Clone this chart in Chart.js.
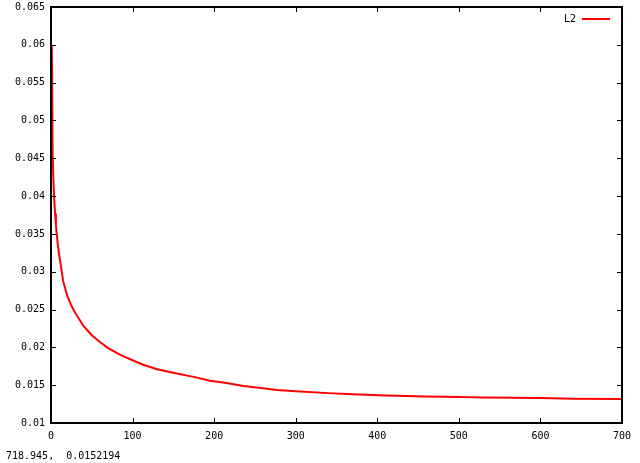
<!DOCTYPE html>
<html>
<head>
<meta charset="utf-8">
<script src="https://cdn.jsdelivr.net/npm/chart.js@4"></script>
<style>
  html, body { margin: 0; padding: 0; background: #fff; }
  #wrap { position: relative; width: 640px; height: 463px; }
  #status {
    position: absolute; left: 6px; top: 450px;
    font: 10px "DejaVu Sans Mono", monospace; color: #000; white-space: pre;
  }
</style>
</head>
<body>
<div id="wrap">
  <canvas id="plot" width="640" height="463"></canvas>
  <div id="status">718.945,  0.0152194</div>
</div>
<script>
// Series L2
const xs = [1, 2, 3, 4, 5, 6, 7, 8, 10, 12, 15, 20, 25, 30, 40, 50, 60, 70, 85, 100,
            113, 130, 154, 175, 195, 215, 236, 260, 277, 300, 340, 370, 410, 460, 500,
            530, 600, 640, 700];
const l2 = [0.0600, 0.0457, 0.0421, 0.0395, 0.0377, 0.0362, 0.0350, 0.0339, 0.0322, 0.0309,
            0.0287, 0.0268, 0.0255, 0.0245, 0.0228, 0.0216, 0.0207, 0.0199, 0.0190, 0.0183,
            0.0177, 0.0171, 0.01655, 0.0161, 0.0156, 0.0153, 0.0149, 0.0146, 0.01437, 0.0142,
            0.01395, 0.0138, 0.01362, 0.0135, 0.01343, 0.01338, 0.0133, 0.01322, 0.01317];

const xMin = 0, xMax = 700, xStep = 100;
const yMin = 0.01, yMax = 0.065, yStep = 0.005;
const seriesName = 'L2';

const FONT = '10px "DejaVu Sans Mono", monospace';

// gnuplot-like frame, inward ticks on all four sides, and legend
const framePlugin = {
  id: 'frame',
  afterDraw(chart) {
    const c = chart.ctx;
    const a = chart.chartArea;
    const sx = chart.scales.x, sy = chart.scales.y;
    c.save();
    c.strokeStyle = '#000';
    c.lineWidth = 2;
    c.strokeRect(a.left, a.top, a.right - a.left, a.bottom - a.top);
    c.lineWidth = 1;
    c.beginPath();
    sx.ticks.forEach(t => {
      const px = Math.round(sx.getPixelForValue(t.value)) + 0.5;
      c.moveTo(px, a.bottom); c.lineTo(px, a.bottom - 5);
      c.moveTo(px, a.top); c.lineTo(px, a.top + 5);
    });
    sy.ticks.forEach(t => {
      const py = Math.round(sy.getPixelForValue(t.value)) + 0.5;
      c.moveTo(a.left, py); c.lineTo(a.left + 5, py);
      c.moveTo(a.right, py); c.lineTo(a.right - 5, py);
    });
    c.stroke();

    // legend
    c.font = FONT;
    c.fillStyle = '#000';
    c.textAlign = 'right';
    c.textBaseline = 'middle';
    c.fillText(seriesName, a.right - 46, a.top + 12);
    c.strokeStyle = '#ff0000';
    c.lineWidth = 2;
    c.beginPath();
    c.moveTo(a.right - 40, a.top + 12);
    c.lineTo(a.right - 12, a.top + 12);
    c.stroke();
    c.restore();
  }
};

const ctx = document.getElementById('plot').getContext('2d');
new Chart(ctx, {
  type: 'line',
  data: {
    datasets: [{
      label: seriesName,
      data: xs.map((x, i) => ({ x: x, y: l2[i] })),
      borderColor: '#ff0000',
      borderWidth: 2,
      pointRadius: 0,
      fill: false,
      tension: 0
    }]
  },
  options: {
    responsive: false,
    animation: false,
    layout: { padding: { left: 0, right: 18, top: 7, bottom: 0 } },
    plugins: {
      legend: { display: false },
      tooltip: { enabled: false }
    },
    scales: {
      x: {
        type: 'linear',
        min: xMin, max: xMax,
        grid: { display: false, drawTicks: false },
        border: { display: false },
        ticks: {
          stepSize: xStep,
          padding: 7,
          color: '#000',
          font: { family: '"DejaVu Sans Mono", monospace', size: 10 },
          maxRotation: 0
        },
        afterFit(axis) {
          axis.height = 40;
          axis.paddingLeft = 0;
          axis.paddingRight = 0;
        }
      },
      y: {
        type: 'linear',
        min: yMin, max: yMax,
        grid: { display: false, drawTicks: false },
        border: { display: false },
        ticks: {
          stepSize: yStep,
          padding: 6,
          color: '#000',
          font: { family: '"DejaVu Sans Mono", monospace', size: 10 },
          callback: v => String(parseFloat(v.toFixed(4)))
        },
        afterFit(axis) {
          axis.width = 51;
          axis.paddingTop = 0;
          axis.paddingBottom = 0;
        }
      }
    }
  },
  plugins: [framePlugin]
});
</script>
</body>
</html>
